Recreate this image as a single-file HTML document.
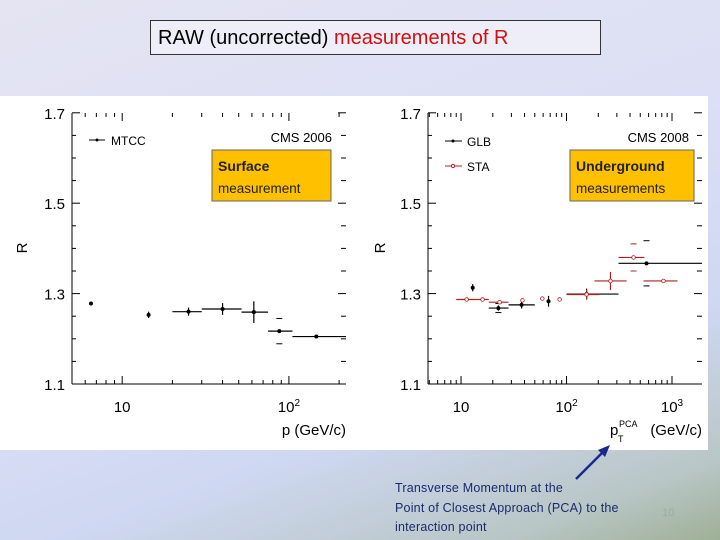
<!DOCTYPE html>
<html><head><meta charset="utf-8"><style>
body{margin:0}
#slide{position:relative;width:720px;height:540px;overflow:hidden;background:linear-gradient(160deg,#e4e4f2 0%,#dcdff5 45%,#cfd8f2 70%,#b9c6c6 90%,#9fb096 100%);font-family:"Liberation Sans",sans-serif}
#title{position:absolute;left:150px;top:20px;width:451px;height:35px;border:1px solid #333;background:#eeeef8;font-size:20px;line-height:35px;box-sizing:border-box;padding-left:7px}
#note{position:absolute;left:395px;top:479px;font-size:12.5px;line-height:19.5px;color:#1a2a6c;letter-spacing:0.2px}
#pg{position:absolute;left:662px;top:507px;font-size:11px;color:#9aa}
</style></head><body>
<div id="slide">
<div id="title">RAW (uncorrected) <span style="color:#d01010">measurements of R</span></div>
<svg id="chart" width="720" height="540" style="position:absolute;left:0;top:0"></svg>
<div id="note">Transverse Momentum at the<br>Point of Closest Approach (PCA) to the<br>interaction point</div>
<div id="pg">10</div>
</div>
<script>
// Left panel (MTCC, CMS 2006)
const mtccP=[6.5,14.4,25,40,61.6,87.6,146];
const mtccR=[1.278,1.253,1.260,1.266,1.259,1.217,1.205];
const mtccLo=[null,null,20,30,52,75,105];
const mtccHi=[null,null,30,52,75,105,220];
const mtccErr=[0.004,0.007,0.009,0.013,0.024,0.003,0.002];
const mtccSys=[0,0,0,0,0,0.028,0];
// Right panel GLB
const glbP=[12.9,22.6,37.5,67.5,155,573];
const glbR=[1.313,1.268,1.275,1.283,1.299,1.367];
const glbLo=[null,18.3,28.2,null,100,311];
const glbHi=[null,28.2,50,null,311,1925];
const glbErr=[0.008,0.006,0.008,0.012,0.012,0.003];
const glbSys=[0,0.01,0,0,0,0.05];
// Right panel STA
const staP=[11.3,16,23.2,38.2,59,86,155,261,432,830];
const staR=[1.287,1.287,1.281,1.285,1.289,1.287,1.298,1.328,1.380,1.328];
const staLo=[9,14.3,18.3,null,null,null,100,184,311,537];
const staHi=[14.3,18.3,28.2,null,null,null,205,371,548,1128];
const staErr=[0.002,0.002,0.003,0.004,0.004,0.003,0.01,0.02,0.003,0.003];
const staSys=[0,0,0,0,0,0,0,0,0.03,0];
const yTicks=[1.1,1.3,1.5,1.7];

const NS='http://www.w3.org/2000/svg';
const svg=document.getElementById('chart');
function mk(t,a,p){const e=document.createElementNS(NS,t);for(const k in a)e.setAttribute(k,a[k]);(p||svg).appendChild(e);return e;}
mk('rect',{x:0,y:96,width:708,height:354,fill:'#fff'});
const K=452;
function yS(v){return 384-(v-1.1)*K;}
function panel(name,x0,x1,xmin,xmax,tickLabels){
  const g=mk('g',{});
  
  
  const lmin=Math.log10(xmin),lmax=Math.log10(xmax);
  const xS=v=>x0+(Math.log10(v)-lmin)/(lmax-lmin)*(x1-x0);
  mk('line',{x1:x0,y1:113,x2:x0,y2:384,stroke:'#000','stroke-width':1},g);
  mk('line',{x1:x0,y1:384,x2:x1,y2:384,stroke:'#000','stroke-width':1},g);
  yTicks.forEach(t=>{const y=yS(t);
    mk('line',{x1:x0,y1:y,x2:x0+8,y2:y,stroke:'#000'},g);
    mk('line',{x1:x1-8,y1:y,x2:x1,y2:y,stroke:'#000'},g);
    const tx=mk('text',{x:x0-7,y:y+6,'text-anchor':'end','font-size':15,fill:'#000'},g);tx.textContent=t.toFixed(1);
  });
  for(let k=1;k<12;k++){if(k%4==0)continue;const y=yS(1.1+k*0.05);
    mk('line',{x1:x0,y1:y,x2:x0+4,y2:y,stroke:'#000'},g);mk('line',{x1:x1-5,y1:y,x2:x1,y2:y,stroke:'#000'},g);}
  for(let d=0;d<4;d++)for(let m=1;m<10;m++){const v=m*Math.pow(10,d);if(v<xmin||v>xmax)continue;const x=xS(v);const L=m==1?8:4;
    mk('line',{x1:x,y1:384,x2:x,y2:384-L,stroke:'#000'},g);mk('line',{x1:x,y1:113,x2:x,y2:113+L,stroke:'#000'},g);}
  tickLabels.forEach(([v,txt,sup])=>{const t=mk('text',{x:xS(v),y:412,'text-anchor':'middle','font-size':15},g);t.textContent=txt;
    if(sup){const s=mk('tspan',{dy:-6,'font-size':10},t);s.textContent=sup;}});
  return {g,xS};
}
function series(P,nm,X,R,Lo,Hi,E,S,col,open){
  for(let i=0;i<X.length;i++){
    const pg=mk('g',{},P.g);
    
    
    const x=P.xS(X[i]),y=yS(R[i]);
    if(Lo[i]!=null)mk('line',{x1:P.xS(Lo[i]),y1:y,x2:Math.min(P.xS(Hi[i]),708),y2:y,stroke:col,'stroke-width':1.2},pg);
    mk('line',{x1:x,y1:y-E[i]*K,x2:x,y2:y+E[i]*K,stroke:col,'stroke-width':1.2},pg);
    if(S[i]){[1,-1].forEach(s=>mk('line',{x1:x-3,y1:y+s*S[i]*K,x2:x+3,y2:y+s*S[i]*K,stroke:col},pg));}
    mk('circle',{cx:x,cy:y,r:open?1.8:1.6,fill:open?'#fff':col,stroke:col,'stroke-width':0.8},pg);
  }
}
const L=panel('left-chart-mtcc',72,346,5,220,[[10,'10'],[100,'10','2']]);
series(L,'mtcc',mtccP,mtccR,mtccLo,mtccHi,mtccErr,mtccSys,'#000',false);
const R=panel('right-chart-cms2008',428,702,4.86,1925,[[10,'10'],[100,'10','2'],[1000,'10','3']]);
series(R,'glb',glbP,glbR,glbLo,glbHi,glbErr,glbSys,'#000',false);
series(R,'sta',staP,staR,staLo,staHi,staErr,staSys,'#b02020',true);
function txt(x,y,s,size,anchor,name,rot){const t=mk('text',{x:x,y:y,'font-size':size,'text-anchor':anchor||'start'});t.textContent=s;
  
  
  if(rot)t.setAttribute('transform','rotate(-90 '+x+' '+y+')');return t;}
txt(27,248,'R',15,'middle','left-y-axis-title',true);
txt(385,248,'R',15,'middle','right-y-axis-title',true);
txt(346,435,'p (GeV/c)',15,'end','left-x-axis-title');
txt(610,435,'p',15,'start','right-x-axis-title');
mk('text',{x:619,y:427,'font-size':9}).textContent='PCA';
mk('text',{x:618,y:442,'font-size':9}).textContent='T';
mk('text',{x:702,y:435,'font-size':15,'text-anchor':'end'}).textContent='(GeV/c)';
txt(332,142,'CMS 2006',13,'end','cms2006-label');
txt(689,142,'CMS 2008',13,'end','cms2008-label');
// legends
mk('line',{x1:89,y1:140,x2:105,y2:140,stroke:'#000'});mk('circle',{cx:97,cy:140,r:1.5});
txt(111,145,'MTCC',12,'start','legend-mtcc');
mk('line',{x1:445,y1:141,x2:462,y2:141,stroke:'#000'});mk('circle',{cx:453,cy:141,r:1.5});
txt(467,146,'GLB',12,'start','legend-glb');
mk('line',{x1:445,y1:166,x2:462,y2:166,stroke:'#b02020'});mk('circle',{cx:453,cy:166,r:1.6,fill:'#fff',stroke:'#b02020'});
txt(467,171,'STA',12,'start','legend-sta');
// orange boxes
function box(x,y,w,h,l1,l2,name){const g=mk('g',{});
  mk('rect',{x:x,y:y,width:w,height:h,fill:'#ffc000',stroke:'#666'},g);
  const a=mk('text',{x:x+6,y:y+21,'font-size':14,'font-weight':'bold',fill:'#222'},g);a.textContent=l1;
  const b=mk('text',{x:x+6,y:y+43,'font-size':13.5,fill:'#222'},g);b.textContent=l2;}
box(212,150,119,51,'Surface','measurement','surface-label-box');
box(570,150,124,51,'Underground','measurements','underground-label-box');
// arrow
mk('line',{x1:576,y1:479,x2:603,y2:452,stroke:'#1a2a8c','stroke-width':2.5});
mk('polygon',{points:'610,445 598,450 605,457',fill:'#1a2a8c'});
</script>
</body></html>
